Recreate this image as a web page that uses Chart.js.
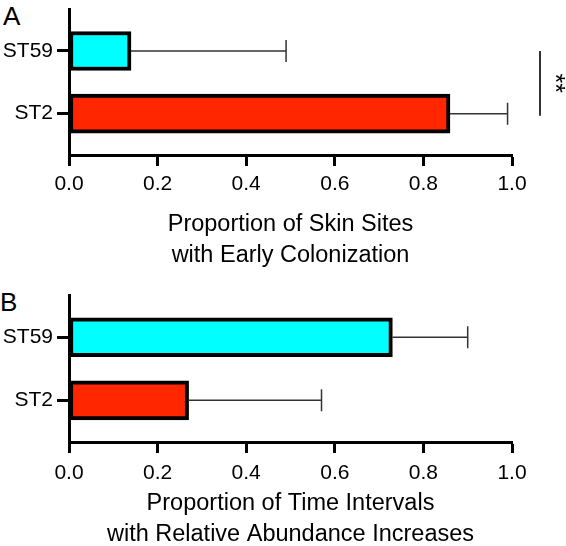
<!DOCTYPE html>
<html>
<head>
<meta charset="utf-8">
<script src="https://cdn.jsdelivr.net/npm/chart.js@4"></script>
<style>
  html, body { margin: 0; padding: 0; background: #fff; overflow: hidden; }
  body { width: 566px; height: 546px; position: relative; }
  canvas { position: absolute; left: 0; }
  .panel { position: absolute; font: 26px "Liberation Sans", Arial, sans-serif; line-height: 26px; color: #000; }
</style>
</head>
<body>
<div class="panel" style="left:3px; top:3px;">A</div>
<div class="panel" style="left:0px; top:289px;">B</div>
<canvas id="chartA" width="566" height="286" style="top:0"></canvas>
<canvas id="chartB" width="566" height="264" style="top:286px"></canvas>
<script>
// categorie (dal basso verso l'alto)
const categories = ['ST2', 'ST59'];
const barColors = ['#ff2600', '#00ffff'];
const xTicks = [0, 0.2, 0.4, 0.6, 0.8, 1.0];

// pannello A: siti cutanei con colonizzazione precoce
const earlyColonization = [0.86, 0.14];
const earlyColonizationUpper = [0.99, 0.49];
const titleA = ['Proportion of Skin Sites', 'with Early Colonization'];

// pannello B: intervalli con aumento di abbondanza relativa
const abundanceIncrease = [0.27, 0.73];
const abundanceIncreaseUpper = [0.57, 0.90];
const titleB = ['Proportion of Time Intervals', 'with Relative Abundance Increases'];

const FONT = '"Liberation Sans", Arial, sans-serif';

// Barre di errore (solo lato superiore)
function errorBarPlugin(values, upper) {
    return {
        id: 'errorBars',
        afterDatasetsDraw(chart) {
            const { ctx, scales: { x, y } } = chart;
            ctx.save();
            ctx.strokeStyle = '#333';
            ctx.lineWidth = 1.5;
            upper.forEach((u, i) => {
                const py = y.getPixelForValue(i);
                const x0 = x.getPixelForValue(values[i]);
                const x1 = x.getPixelForValue(u);
                ctx.beginPath();
                ctx.moveTo(x0, py);
                ctx.lineTo(x1, py);
                ctx.moveTo(x1, py - 11);
                ctx.lineTo(x1, py + 11);
                ctx.stroke();
            });
            ctx.restore();
        }
    };
}

// Linea di significatività con "**"
const bracketPlugin = {
    id: 'bracket',
    afterDraw(chart) {
        const { ctx, chartArea, scales: { y } } = chart;
        const bx = chartArea.right + 28;
        const yTop = y.getPixelForValue(1);
        const yBot = y.getPixelForValue(0) + 2;
        ctx.save();
        ctx.strokeStyle = '#333';
        ctx.lineWidth = 2;
        ctx.beginPath();
        ctx.moveTo(bx, yTop);
        ctx.lineTo(bx, yBot);
        ctx.stroke();
        ctx.translate(bx + 14, (yTop + yBot) / 2);
        ctx.rotate(Math.PI / 2);
        ctx.fillStyle = '#000';
        ctx.font = '25px ' + FONT;
        ctx.textAlign = 'center';
        ctx.textBaseline = 'middle';
        ctx.fillText('**', 0, 0);
        ctx.restore();
    }
};

function makePanel(id, values, upper, title, height, areaH, tickPad, titlePad, extraPlugins) {
    const ctx = document.getElementById(id).getContext('2d');
    return new Chart(ctx, {
        type: 'bar',
        data: {
            datasets: [{
                data: values.map((v, i) => ({ x: v, y: i })),
                backgroundColor: barColors,
                borderColor: '#000',
                borderWidth: 4,
                borderSkipped: false,
                barThickness: 39
            }]
        },
        options: {
            indexAxis: 'y',
            responsive: false,
            animation: false,
            layout: { padding: { top: 9, right: 54, left: 0, bottom: 0 } },
            plugins: { legend: { display: false }, tooltip: { enabled: false } },
            scales: {
                x: {
                    type: 'linear',
                    min: 0,
                    max: 1,
                    offset: false,
                    afterBuildTicks: s => { s.ticks = xTicks.map(v => ({ value: v })); },
                    afterFit: s => { s.height = height - 9 - areaH; s.paddingLeft = 0; s.paddingRight = 0; },
                    ticks: {
                        callback: v => v.toFixed(1),
                        color: '#000',
                        font: { size: 21, family: FONT },
                        padding: tickPad,
                        maxRotation: 0
                    },
                    grid: { drawOnChartArea: false, offset: false, tickLength: 11, tickWidth: 3, tickColor: '#000' },
                    border: { color: '#000', width: 3 },
                    title: {
                        display: true,
                        text: title,
                        color: '#000',
                        font: { size: 23.5, family: FONT, lineHeight: 31 / 23.5 },
                        padding: { top: 0, bottom: titlePad }
                    }
                },
                y: {
                    type: 'linear',
                    min: -0.66,
                    max: 1.67,
                    offset: false,
                    afterBuildTicks: s => { s.ticks = categories.map((c, i) => ({ value: i })); },
                    afterFit: s => { s.width = 69; s.paddingTop = 0; s.paddingBottom = 0; },
                    ticks: {
                        callback: v => categories[v],
                        color: '#000',
                        font: { size: 21, family: FONT },
                        padding: 4
                    },
                    grid: { drawOnChartArea: false, offset: false, tickLength: 12, tickWidth: 3, tickColor: '#000' },
                    border: { color: '#000', width: 3 }
                }
            }
        },
        plugins: [errorBarPlugin(values, upper)].concat(extraPlugins)
    });
}

makePanel('chartA', earlyColonization, earlyColonizationUpper, titleA, 286, 146, 6, 15, [bracketPlugin]);
makePanel('chartB', abundanceIncrease, abundanceIncreaseUpper, titleB, 264, 147, 8, 0, []);
</script>
</body>
</html>
